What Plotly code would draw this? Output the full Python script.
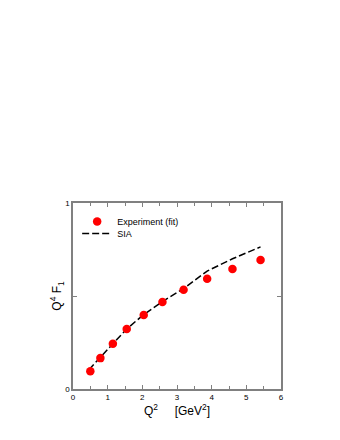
import plotly.graph_objects as go

q2_exp = [0.50, 0.79, 1.15, 1.55, 2.04, 2.58, 3.19, 3.87, 4.60, 5.41]
f1_exp = [0.095, 0.166, 0.243, 0.323, 0.398, 0.468, 0.534, 0.593, 0.645, 0.693]

q2_sia = [0.46, 0.79, 1.15, 1.55, 2.04, 2.58, 3.19, 3.87, 4.60, 5.41]
f1_sia = [0.104, 0.168, 0.243, 0.323, 0.400, 0.470, 0.540, 0.634, 0.700, 0.764]

x_ticks = [0, 1, 2, 3, 4, 5, 6]
y_ticks = [0, 0.5, 1]
y_labels = ["0", "", "1"]

fig = go.Figure()
fig.add_trace(go.Scatter(x=q2_sia, y=f1_sia, mode="lines", name="SIA", legend="legend2",
                         line=dict(color="black", width=1.5, dash="7px,3px")))
fig.add_trace(go.Scatter(x=q2_exp, y=f1_exp, mode="markers", name="Experiment (fit)",
                         legend="legend", marker=dict(color="#ff0000", size=8.5)))

axis_common = dict(showline=True, mirror="ticks", linecolor="#808080", linewidth=1.5,
                   ticks="inside", tickcolor="#808080", ticklen=4, showgrid=False,
                   zeroline=False, tickfont=dict(size=8, color="black"))

leg_common = dict(xanchor="left", yanchor="top", bgcolor="rgba(0,0,0,0)",
                  font=dict(size=9), borderwidth=0)

fig.update_layout(
    width=340, height=440,
    margin=dict(l=65, r=67, t=195, b=59),
    paper_bgcolor="white", plot_bgcolor="white",
    font=dict(family="Liberation Sans, Arial, sans-serif", color="black"),
    showlegend=True,
    legend=dict(x=0.02, y=0.978, **leg_common),
    legend2=dict(x=0.02, y=0.914, **leg_common),
    xaxis=dict(range=[0, 6], tickvals=x_ticks,
               minor=dict(dtick=0.5, ticks="inside", ticklen=3, tickcolor="#808080"),
               title=dict(text="Q<sup>2</sup>     [GeV<sup>2</sup>]", font=dict(size=12), standoff=2),
               **axis_common),
    yaxis=dict(range=[0, 1], tickvals=y_ticks, ticktext=y_labels,
               title=dict(text="Q<sup>4</sup> F<sub>1</sub>", font=dict(size=12), standoff=1),
               **axis_common),
)

fig.write_html("out.html")
